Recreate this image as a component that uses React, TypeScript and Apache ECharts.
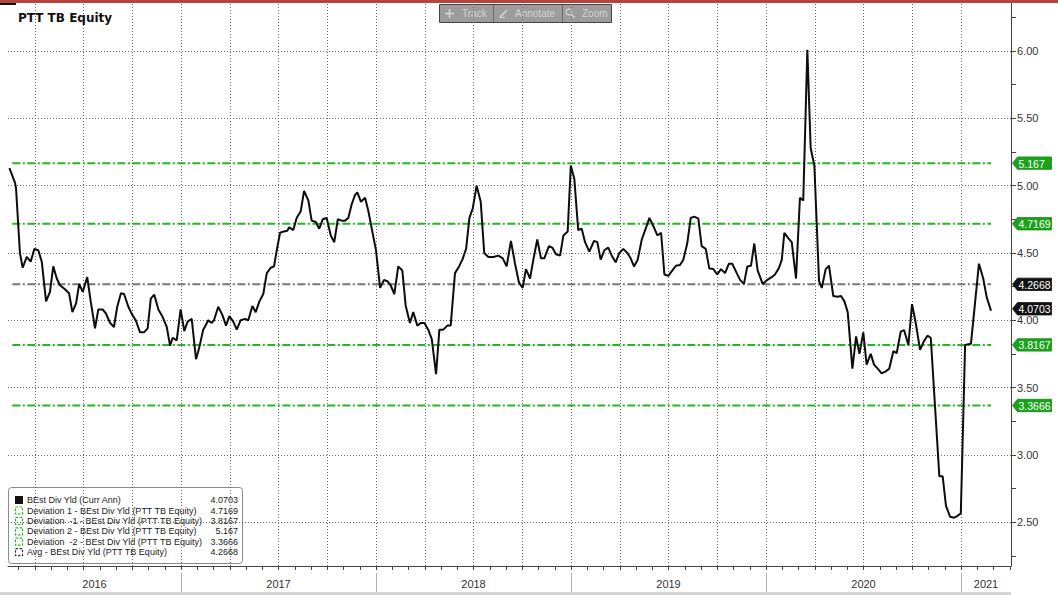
import React, { useEffect, useRef } from "react";
import * as echarts from "echarts";

// Observation dates as decimal years, and the dividend yield read at each one
const dateYears = [
  2016.120, 2016.149, 2016.154, 2016.174, 2016.188, 2016.209, 2016.229, 2016.248, 2016.268, 2016.286,
  2016.308, 2016.328, 2016.345, 2016.363, 2016.379, 2016.405, 2016.426, 2016.443, 2016.462, 2016.478,
  2016.496, 2016.519, 2016.537, 2016.559, 2016.576, 2016.598, 2016.615, 2016.636, 2016.656, 2016.673,
  2016.692, 2016.708, 2016.730, 2016.750, 2016.768, 2016.790, 2016.810, 2016.829, 2016.845, 2016.863,
  2016.884, 2016.904, 2016.927, 2016.944, 2016.957, 2016.978, 2016.998, 2017.017, 2017.034, 2017.055,
  2017.077, 2017.094, 2017.114, 2017.140, 2017.157, 2017.169, 2017.191, 2017.212, 2017.231, 2017.248,
  2017.268, 2017.286, 2017.306, 2017.328, 2017.345, 2017.366, 2017.383, 2017.402, 2017.422, 2017.440,
  2017.460, 2017.477, 2017.491, 2017.508, 2017.528, 2017.545, 2017.555, 2017.576, 2017.593, 2017.614,
  2017.631, 2017.653, 2017.670, 2017.691, 2017.709, 2017.727, 2017.747, 2017.768, 2017.786, 2017.804,
  2017.824, 2017.841, 2017.858, 2017.875, 2017.892, 2017.904, 2017.923, 2017.944, 2017.961, 2017.981,
  2018.000, 2018.021, 2018.041, 2018.058, 2018.075, 2018.094, 2018.114, 2018.135, 2018.152, 2018.174,
  2018.191, 2018.212, 2018.229, 2018.248, 2018.268, 2018.286, 2018.308, 2018.325, 2018.345, 2018.366,
  2018.383, 2018.405, 2018.426, 2018.443, 2018.462, 2018.479, 2018.496, 2018.516, 2018.537, 2018.555,
  2018.576, 2018.602, 2018.627, 2018.650, 2018.670, 2018.692, 2018.713, 2018.733, 2018.752, 2018.769,
  2018.790, 2018.807, 2018.827, 2018.846, 2018.863, 2018.887, 2018.904, 2018.923, 2018.944, 2018.961,
  2018.983, 2018.999, 2019.017, 2019.037, 2019.055, 2019.072, 2019.094, 2019.118, 2019.135, 2019.152,
  2019.171, 2019.191, 2019.209, 2019.229, 2019.248, 2019.268, 2019.289, 2019.306, 2019.323, 2019.342,
  2019.363, 2019.383, 2019.402, 2019.422, 2019.443, 2019.462, 2019.479, 2019.499, 2019.520, 2019.538,
  2019.559, 2019.576, 2019.596, 2019.614, 2019.632, 2019.653, 2019.670, 2019.691, 2019.709, 2019.730,
  2019.750, 2019.769, 2019.790, 2019.810, 2019.827, 2019.850, 2019.867, 2019.887, 2019.904, 2019.923,
  2019.940, 2019.957, 2019.983, 2020.007, 2020.029, 2020.046, 2020.067, 2020.081, 2020.094, 2020.114,
  2020.132, 2020.154, 2020.174, 2020.191, 2020.212, 2020.229, 2020.248, 2020.272, 2020.286, 2020.306,
  2020.323, 2020.345, 2020.366, 2020.385, 2020.402, 2020.419, 2020.443, 2020.462, 2020.479, 2020.499,
  2020.516, 2020.537, 2020.554, 2020.573, 2020.593, 2020.614, 2020.632, 2020.653, 2020.670, 2020.691,
  2020.708, 2020.730, 2020.749, 2020.769, 2020.790, 2020.810, 2020.828, 2020.845, 2020.889, 2020.906,
  2020.923, 2020.944, 2020.964, 2020.981, 2020.999, 2021.021, 2021.051, 2021.092, 2021.114, 2021.132,
  2021.154,
];

const divYield = [
  5.13, 5.02, 4.98, 4.50, 4.39, 4.47, 4.435, 4.53, 4.52, 4.435,
  4.14, 4.21, 4.40, 4.31, 4.26, 4.23, 4.20, 4.06, 4.125, 4.27,
  4.21, 4.32, 4.14, 3.94, 4.08, 4.08, 4.05, 3.98, 3.95, 4.10,
  4.20, 4.195, 4.10, 4.04, 4.00, 3.91, 3.91, 3.94, 4.16, 4.19,
  4.08, 4.03, 3.95, 3.81, 3.87, 3.85, 4.08, 3.92, 3.99, 4.01,
  3.71, 3.80, 3.93, 4.00, 3.98, 4.00, 4.10, 4.04, 3.96, 4.03,
  3.99, 3.93, 4.00, 4.01, 4.00, 4.105, 4.06, 4.14, 4.195, 4.35,
  4.39, 4.40, 4.52, 4.65, 4.66, 4.665, 4.69, 4.67, 4.76, 4.81,
  4.96, 4.89, 4.74, 4.73, 4.68, 4.75, 4.76, 4.63, 4.58, 4.75,
  4.74, 4.74, 4.76, 4.86, 4.93, 4.95, 4.88, 4.91, 4.81, 4.66,
  4.52, 4.24, 4.30, 4.29, 4.26, 4.195, 4.40, 4.37, 4.11, 3.98,
  4.06, 3.96, 3.98, 3.98, 3.93, 3.86, 3.60, 3.93, 3.93, 3.96,
  3.96, 4.35, 4.40, 4.45, 4.53, 4.76, 4.83, 5.00, 4.88, 4.50,
  4.47, 4.47, 4.48, 4.46, 4.40, 4.59, 4.42, 4.28, 4.24, 4.38,
  4.31, 4.45, 4.60, 4.46, 4.46, 4.55, 4.54, 4.49, 4.48, 4.63,
  4.66, 5.15, 5.05, 4.67, 4.68, 4.58, 4.51, 4.59, 4.58, 4.45,
  4.52, 4.54, 4.48, 4.43, 4.50, 4.53, 4.50, 4.46, 4.40, 4.45,
  4.60, 4.68, 4.76, 4.70, 4.63, 4.65, 4.34, 4.33, 4.37, 4.405,
  4.41, 4.45, 4.57, 4.76, 4.77, 4.755, 4.55, 4.53, 4.385, 4.38,
  4.34, 4.38, 4.35, 4.42, 4.42, 4.35, 4.30, 4.27, 4.40, 4.405,
  4.57, 4.37, 4.27, 4.30, 4.32, 4.34, 4.39, 4.45, 4.65, 4.61,
  4.58, 4.31, 4.91, 4.89, 6.01, 5.28, 5.15, 4.29, 4.24, 4.38,
  4.405, 4.18, 4.175, 4.18, 4.14, 4.06, 3.64, 3.88, 3.75, 3.91,
  3.67, 3.75, 3.67, 3.64, 3.605, 3.62, 3.64, 3.77, 3.755, 3.915,
  3.927, 3.816, 4.12, 3.97, 3.78, 3.845, 3.885, 3.87, 2.84, 2.84,
  2.62, 2.54, 2.533, 2.545, 2.565, 3.816, 3.825, 4.42, 4.31, 4.17,
  4.07,
];

const lastValue = 4.0703;
const avgLevel = 4.2668;
const dev1Level = 4.7169;
const devMinus1Level = 3.8167;
const dev2Level = 5.167;
const devMinus2Level = 3.3666;
const bandStart = 2016.135;
const bandEnd = 2021.154;

const legendNames = [
  "BEst Div Yld (Curr Ann)",
  "Deviation 1 - BEst Div Yld (PTT TB Equity)",
  "Deviation  -1 - BEst Div Yld (PTT TB Equity)",
  "Deviation 2 - BEst Div Yld (PTT TB Equity)",
  "Deviation  -2 - BEst Div Yld (PTT TB Equity)",
  "Avg - BEst Div Yld (PTT TB Equity)",
];
const legendValues = [lastValue, dev1Level, devMinus1Level, dev2Level, devMinus2Level, avgLevel];

const yearLabels = [2016, 2017, 2018, 2019, 2020, 2021];
const yLabelValues = [2.5, 3.0, 3.5, 4.0, 4.5, 5.0, 5.5, 6.0];
const yTickValues = [2.25, 2.5, 2.75, 3.0, 3.25, 3.5, 3.75, 4.0, 4.25, 4.5, 4.75, 5.0, 5.25, 5.5, 5.75, 6.0, 6.25];
const quarterLines = [
  2016.25, 2016.5, 2016.75, 2017.0, 2017.25, 2017.5, 2017.75, 2018.0, 2018.25, 2018.5, 2018.75,
  2019.0, 2019.25, 2019.5, 2019.75, 2020.0, 2020.25, 2020.5, 2020.75, 2021.0,
];

const X_MIN = 2016.1128;
const X_MAX = 2021.2564;
const Y_MIN = 2.174;
const Y_MAX = 6.357;

const GREEN = "#22b822";
const TAG_GREEN = "#1aa31a";
const SANS = "Liberation Sans, Arial, sans-serif";

export default function App() {
  const ref = useRef<HTMLDivElement>(null);

  useEffect(() => {
    if (!ref.current) return;
    const chart = echarts.init(ref.current, null, { renderer: "svg" });

    const monthTicks: number[] = [];
    for (let y = 2016; y <= 2021; y++) {
      for (let m = 0; m < 12; m++) monthTicks.push(y + m / 12);
    }
    const yearCenters = yearLabels.map((y) => (Math.max(y, X_MIN) + Math.min(y + 1, X_MAX)) / 2);

    const bandSeries = (name: string, v: number, color: string) => ({
      name,
      type: "line",
      data: [
        [bandStart, v],
        [bandEnd, v],
      ],
      symbol: "none",
      silent: true,
      z: 2,
      lineStyle: { color, width: 2, type: [8, 2.5, 2, 2.5] },
    });

    chart.setOption({
      animation: false,
      backgroundColor: "#ffffff",
      grid: { left: 8, right: 47, top: 3, bottom: 29 },
      xAxis: {
        type: "value",
        min: X_MIN,
        max: X_MAX,
        axisLine: { show: true, lineStyle: { color: "#444", width: 1 } },
        axisTick: { show: true, customValues: monthTicks, length: 4, lineStyle: { color: "#444" } },
        axisLabel: {
          customValues: yearCenters,
          formatter: (v: number) => String(Math.floor(v)),
          margin: 12,
          fontSize: 11,
          color: "#333",
          fontFamily: SANS,
        },
        splitLine: { show: false },
      },
      yAxis: {
        type: "value",
        position: "right",
        min: Y_MIN,
        max: Y_MAX,
        axisLine: { show: true, lineStyle: { color: "#444", width: 1 } },
        axisTick: { show: true, customValues: yTickValues, length: 5, lineStyle: { color: "#444" } },
        axisLabel: {
          customValues: yLabelValues,
          formatter: (v: number) => v.toFixed(2),
          margin: 6,
          fontSize: 11,
          color: "#333",
          fontFamily: SANS,
        },
        splitLine: { show: false },
      },
      series: [
        {
          name: "grid",
          type: "line",
          data: [],
          silent: true,
          z: 1,
          markLine: {
            silent: true,
            symbol: ["none", "none"],
            label: { show: false },
            lineStyle: { type: [1, 2], color: "#6a6a6a", width: 1 },
            emphasis: { disabled: true },
            data: [
              ...yLabelValues.map((v) => ({ yAxis: v })),
              ...quarterLines.map((v) => ({ xAxis: v })),
            ],
          },
        },
        bandSeries("Deviation 2", dev2Level, GREEN),
        bandSeries("Deviation 1", dev1Level, GREEN),
        bandSeries("Deviation -1", devMinus1Level, GREEN),
        bandSeries("Deviation -2", devMinus2Level, GREEN),
        bandSeries("Avg", avgLevel, "#777777"),
        {
          name: "BEst Div Yld (Curr Ann)",
          type: "line",
          data: dateYears.map((t, i) => [t, divYield[i]]),
          symbol: "none",
          z: 5,
          lineStyle: { color: "#0d0d0d", width: 2 },
        },
      ],
    });

    const px = (t: number) => chart.convertToPixel({ xAxisIndex: 0 }, t) as number;
    const py = (v: number) => chart.convertToPixel({ yAxisIndex: 0 }, v) as number;

    const axisX = px(X_MAX);
    const elements: any[] = [];

    // top bars
    elements.push({ type: "rect", shape: { x: 0, y: 0, width: 1058, height: 3 }, style: { fill: "#b5433f" }, z: 20 });
    elements.push({ type: "rect", shape: { x: 0, y: 3, width: 16, height: 2 }, style: { fill: "#111" }, z: 20 });

    // title
    elements.push({
      type: "text",
      x: 18,
      y: 18,
      style: {
        text: "PTT TB Equity",
        fill: "#111",
        font: "bold 12px 'DejaVu Sans', Verdana, sans-serif",
        verticalAlign: "middle",
      },
      z: 20,
    });

    // toolbar
    const tb: any[] = [];
    tb.push({ type: "rect", shape: { x: 439.5, y: 4.5, width: 172, height: 18 }, style: { fill: "rgba(95,95,95,0.62)", stroke: "#444", lineWidth: 1 } });
    tb.push({ type: "line", shape: { x1: 493.5, y1: 5, x2: 493.5, y2: 22 }, style: { stroke: "#6a6a6a", lineWidth: 1 } });
    tb.push({ type: "line", shape: { x1: 562.5, y1: 5, x2: 562.5, y2: 22 }, style: { stroke: "#6a6a6a", lineWidth: 1 } });
    const tbText = (x: number, t: string) => ({
      type: "text",
      x,
      y: 13.5,
      style: { text: t, fill: "#d4d4d4", font: `10px ${SANS}`, verticalAlign: "middle" },
    });
    tb.push(tbText(462, "Track"));
    tb.push(tbText(515, "Annotate"));
    tb.push(tbText(582, "Zoom"));
    tb.push({ type: "line", shape: { x1: 445, y1: 13.5, x2: 454, y2: 13.5 }, style: { stroke: "#d8d8d8", lineWidth: 1.5 } });
    tb.push({ type: "line", shape: { x1: 449.5, y1: 9, x2: 449.5, y2: 18 }, style: { stroke: "#d8d8d8", lineWidth: 1.5 } });
    tb.push({ type: "line", shape: { x1: 500, y1: 17, x2: 507, y2: 10 }, style: { stroke: "#d8d8d8", lineWidth: 1.5 } });
    tb.push({ type: "line", shape: { x1: 500, y1: 17.5, x2: 505, y2: 17.5 }, style: { stroke: "#d8d8d8", lineWidth: 1 } });
    tb.push({ type: "circle", shape: { cx: 569, cy: 12, r: 3 }, style: { fill: "none", stroke: "#d8d8d8", lineWidth: 1.2 } });
    tb.push({ type: "line", shape: { x1: 571, y1: 14, x2: 574.5, y2: 17.5 }, style: { stroke: "#d8d8d8", lineWidth: 1.5 } });
    elements.push({ type: "group", children: tb, z: 20 });

    // legend
    const lg: any[] = [];
    lg.push({
      type: "rect",
      shape: { x: 8.5, y: 487.5, width: 234, height: 76, r: 3 },
      style: { fill: "rgba(255,255,255,0.35)", stroke: "#8c8c8c", lineWidth: 1 },
    });
    const rowY = [500, 510.5, 521, 531.3, 541.7, 552.2];
    const symColors = ["#111", GREEN, GREEN, GREEN, GREEN, "#333"];
    legendNames.forEach((name, i) => {
      const cy = rowY[i];
      if (i === 0) {
        lg.push({ type: "rect", shape: { x: 15, y: cy - 4, width: 8, height: 8 }, style: { fill: "#111" } });
      } else {
        lg.push({
          type: "rect",
          shape: { x: 15.5, y: cy - 3.5, width: 7, height: 7 },
          style: { fill: "none", stroke: symColors[i], lineWidth: 1.2, lineDash: [2.5, 1.5] },
        });
      }
      lg.push({
        type: "text",
        x: 27,
        y: cy,
        style: { text: name, fill: "#222", font: `9px ${SANS}`, verticalAlign: "middle" },
      });
      lg.push({
        type: "text",
        x: 238,
        y: cy,
        style: { text: String(legendValues[i]), fill: "#222", font: `9px ${SANS}`, align: "right", verticalAlign: "middle" },
      });
    });
    elements.push({ type: "group", children: lg, z: 15 });

    // right value tags
    const tags = [
      { v: dev2Level, c: TAG_GREEN, dy: 0 },
      { v: dev1Level, c: TAG_GREEN, dy: 0 },
      { v: avgLevel, c: "#111", dy: 0 },
      { v: lastValue, c: "#111", dy: -2 },
      { v: devMinus1Level, c: TAG_GREEN, dy: 0 },
      { v: devMinus2Level, c: TAG_GREEN, dy: 0 },
    ];
    tags.forEach((t) => {
      const y = py(t.v) + t.dy;
      const x0 = axisX + 1.5;
      const h = 6.2;
      elements.push({
        type: "polygon",
        shape: {
          points: [
            [x0, y],
            [x0 + 5, y - h],
            [x0 + 39, y - h],
            [x0 + 39, y + h],
            [x0 + 5, y + h],
          ],
        },
        style: { fill: t.c, stroke: t.c === "#111" ? "#111" : "#168a16", lineWidth: 0.8 },
        z: 18,
      });
      elements.push({
        type: "text",
        x: x0 + 6,
        y: y + 0.5,
        style: { text: String(t.v), fill: "#fff", font: `10.5px ${SANS}`, verticalAlign: "middle" },
        z: 19,
      });
    });

    // year separators in the label band
    yearLabels.slice(1).forEach((y) => {
      const x = Math.round(px(y)) + 0.5;
      elements.push({
        type: "line",
        shape: { x1: x, y1: 573, x2: x, y2: 592 },
        style: { stroke: "#b0b0b0", lineWidth: 1 },
        z: 10,
      });
    });
    elements.push({ type: "rect", shape: { x: 0, y: 592, width: axisX, height: 3 }, style: { fill: "#d4d4d4" }, z: 10 });

    chart.setOption({ graphic: { elements } });

    return () => chart.dispose();
  }, []);

  return (
    <div
      ref={ref}
      style={{ position: "absolute", left: 0, top: 0, width: 1058, height: 595, background: "#fff" }}
    />
  );
}
